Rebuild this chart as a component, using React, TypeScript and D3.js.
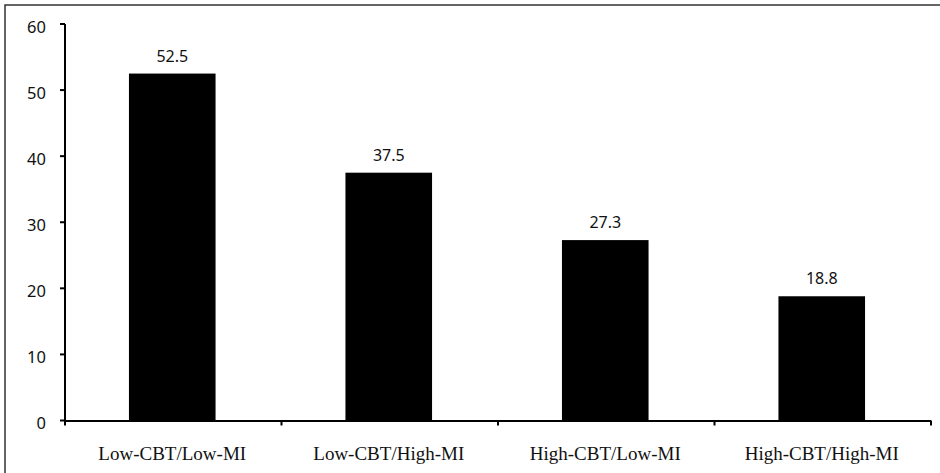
import React from "react";
import * as d3 from "d3";

const categories = ["Low-CBT/Low-MI", "Low-CBT/High-MI", "High-CBT/Low-MI", "High-CBT/High-MI"];
const values = [52.5, 37.5, 27.3, 18.8];
const valueLabels = ["52.5", "37.5", "27.3", "18.8"];
const yTicks = [0, 10, 20, 30, 40, 50, 60];

const W = 940;
const H = 473;
const left = 65;
const right = 931;
const top = 24;
const bottom = 420.5;

export default function App() {
  const xb = d3.scaleBand<string>().domain(categories).range([left, right]);
  const y = d3.scaleLinear().domain([0, 60]).range([bottom, top]);
  const bw = xb.bandwidth() * 0.4;
  const sans = "'Noto Sans', 'Open Sans', sans-serif";
  const serif = "'Liberation Serif', 'Times New Roman', serif";
  return (
    <svg width={W} height={H} style={{ position: "fixed", left: 0, top: 0, background: "#fff" }}>
      <rect x={5} y={5} width={W + 20} height={H + 20} fill="none" stroke="#333" strokeWidth={1.5} />
      {categories.map((c, i) => {
        const cx = (xb(c) as number) + xb.bandwidth() / 2 - 1;
        return (
          <g key={c}>
            <rect x={cx - bw / 2} y={y(values[i])} width={bw} height={bottom - y(values[i])} fill="#000" />
            <text x={cx} y={y(values[i]) - 12} textAnchor="middle" fontFamily={sans} fontSize={16} fill="#111">
              {valueLabels[i]}
            </text>
            <text x={cx} y={460} textAnchor="middle" fontFamily={serif} fontSize={19} fill="#111">
              {c}
            </text>
          </g>
        );
      })}
      {/* y axis */}
      <line x1={left} x2={left} y1={top} y2={bottom + 1} stroke="#000" strokeWidth={2} />
      {yTicks.map((t) => (
        <g key={t}>
          <line x1={left - 5} x2={left} y1={y(t)} y2={y(t)} stroke="#000" strokeWidth={2} />
          <text x={left - 19} y={y(t) + 8.5} textAnchor="end" fontFamily={sans} fontSize={16.5} fill="#111">
            {t}
          </text>
        </g>
      ))}
      {/* x axis */}
      <line x1={left} x2={right} y1={bottom + 0.5} y2={bottom + 0.5} stroke="#000" strokeWidth={2} />
      {[...categories.map((c) => xb(c) as number), right].map((bx, i) => (
        <line key={i} x1={bx} x2={bx} y1={bottom} y2={bottom + 5} stroke="#000" strokeWidth={2} />
      ))}
    </svg>
  );
}
